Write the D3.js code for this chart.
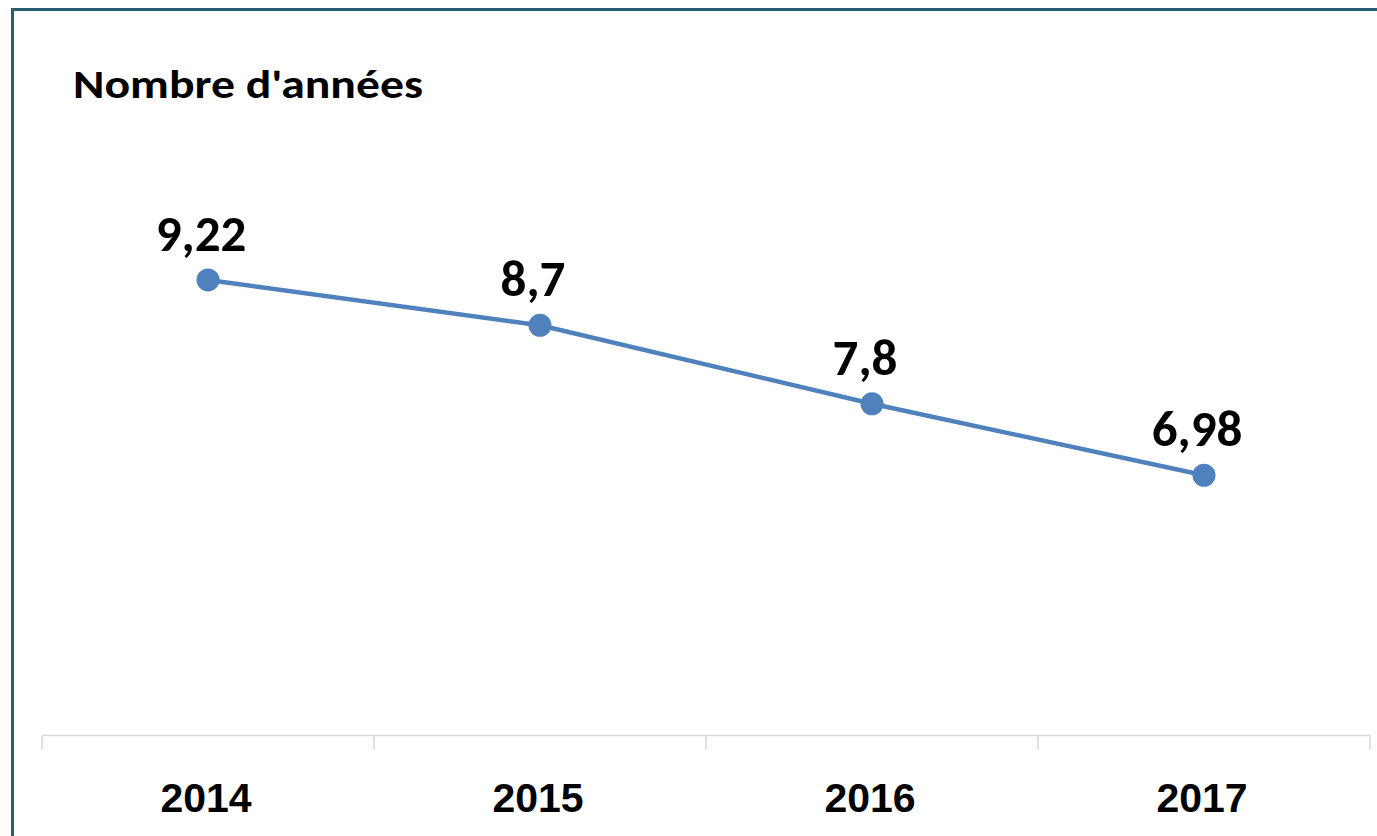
<!DOCTYPE html>
<html>
<head>
<meta charset="utf-8">
<script src="https://cdn.jsdelivr.net/npm/d3@7"></script>
<style>
  body { margin: 0; background: #fff; }
  svg { display: block; font-family: Carlito, Lato, "Open Sans", sans-serif; }
</style>
</head>
<body>
<div id="chart"></div>
<script>
const years = ["2014", "2015", "2016", "2017"];
const values = [9.22, 8.7, 7.8, 6.98];
const valueLabels = ["9,22", "8,7", "7,8", "6,98"];
const yDomain = [4, 10];
const title = "Nombre d'années";

const width = 1377, height = 836;
const margin = { top: 212, right: 7, bottom: 101, left: 42 };

const svg = d3.select("#chart").append("svg")
    .attr("width", width)
    .attr("height", height);

// frame (right and bottom edges fall outside the picture)
svg.append("rect")
    .attr("x", 12.5).attr("y", 9.5)
    .attr("width", 1500).attr("height", 1000)
    .attr("fill", "#fff")
    .attr("stroke", "#285e6f")
    .attr("stroke-width", 3);

const x = d3.scaleBand()
    .domain(years)
    .range([margin.left, width - margin.right]);

const y = d3.scaleLinear()
    .domain(yDomain)
    .range([height - margin.bottom, margin.top]);

// title
svg.append("text")
    .attr("x", 73).attr("y", 98)
    .attr("font-size", 40)
    .attr("font-weight", "bold")
    .attr("fill", "#000")
    .attr("textLength", 350)
    .attr("lengthAdjust", "spacingAndGlyphs")
    .text(title);

// x axis
const xAxis = svg.append("g")
    .attr("transform", `translate(0,${y(yDomain[0])})`)
    .call(d3.axisBottom(x).tickSize(0).tickFormat(""));
xAxis.select(".domain").attr("stroke", "#d9d9d9").attr("stroke-width", 1.5);

// tick marks at band edges
const edges = years.map(d => x(d)).concat([x(years[years.length - 1]) + x.bandwidth()]);
xAxis.selectAll(".edge")
    .data(edges)
    .join("line")
    .attr("class", "edge")
    .attr("x1", d => d).attr("x2", d => d)
    .attr("y1", 0).attr("y2", 15)
    .attr("stroke", "#d9d9d9")
    .attr("stroke-width", 1.5);

xAxis.selectAll(".year")
    .data(years)
    .join("text")
    .attr("class", "year")
    .attr("x", d => x(d) + x.bandwidth() / 2 - 2)
    .attr("y", 77)
    .attr("text-anchor", "middle")
    .attr("font-size", 41)
    .attr("font-weight", "bold")
    .attr("fill", "#000")
    .text(d => d);

const pts = years.map((d, i) => ({ year: d, value: values[i], label: valueLabels[i] }));

const line = d3.line()
    .x(d => x(d.year) + x.bandwidth() / 2)
    .y(d => y(d.value));

svg.append("path")
    .datum(pts)
    .attr("d", line)
    .attr("fill", "none")
    .attr("stroke", "#4f81bd")
    .attr("stroke-width", 4.5);

svg.selectAll(".dot")
    .data(pts)
    .join("circle")
    .attr("class", "dot")
    .attr("cx", d => x(d.year) + x.bandwidth() / 2)
    .attr("cy", d => y(d.value))
    .attr("r", 11.5)
    .attr("fill", "#4f81bd");

svg.selectAll(".val")
    .data(pts)
    .join("text")
    .attr("class", "val")
    .attr("x", d => x(d.year) + x.bandwidth() / 2 - 7)
    .attr("y", d => y(d.value) - 29)
    .attr("text-anchor", "middle")
    .attr("font-size", 51)
    .attr("font-weight", "bold")
    .attr("fill", "#000")
    .text(d => d.label);
</script>
</body>
</html>
